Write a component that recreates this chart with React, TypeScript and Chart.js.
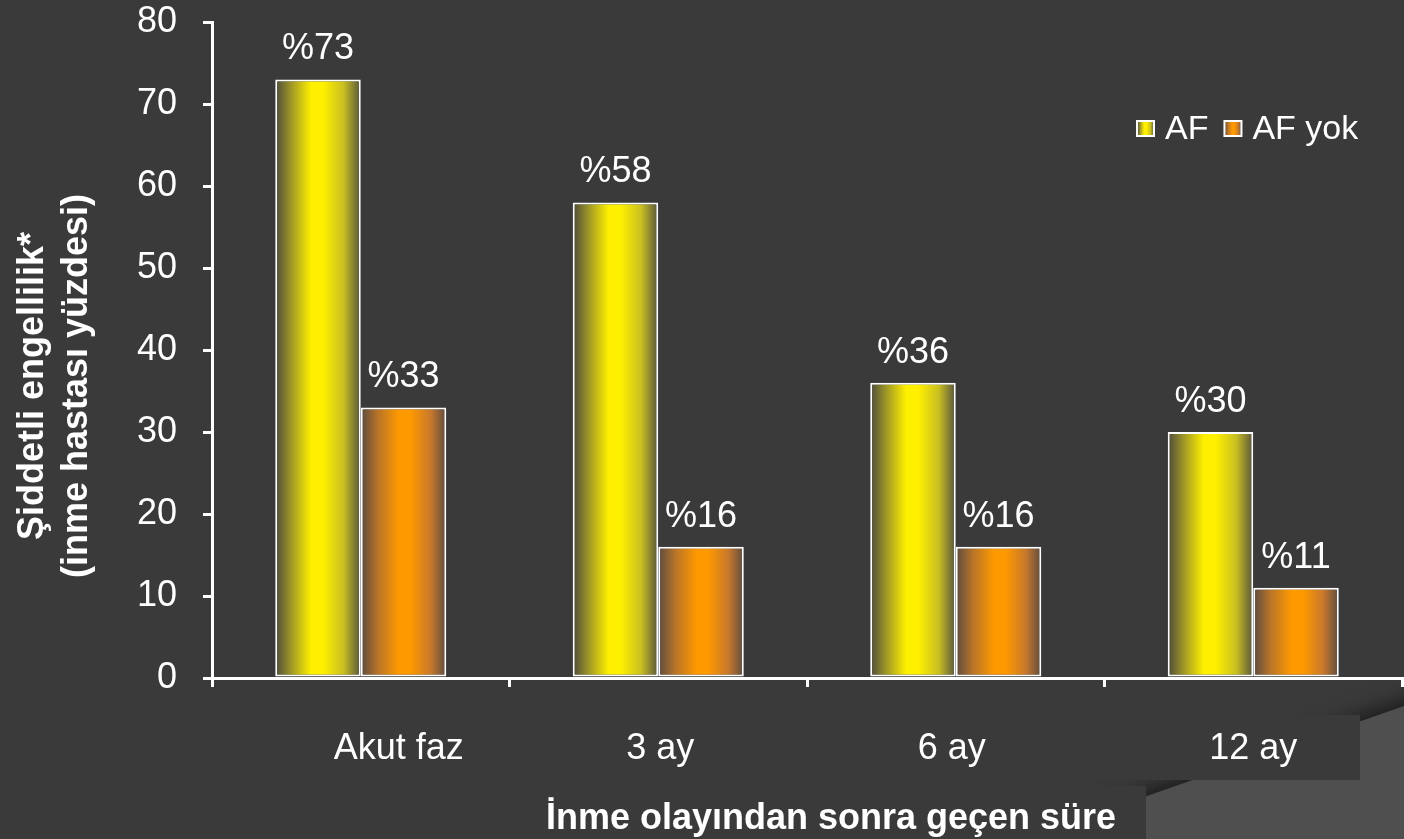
import { useEffect, useRef } from 'react';
import { Chart, registerables } from 'chart.js';

Chart.register(...registerables);

// ---- data ----
const categories = ['Akut faz', '3 ay', '6 ay', '12 ay'];
const seriesNames = ['AF', 'AF yok'];
const afValues = [73, 58, 36, 30];
const noAfValues = [33, 16, 16, 11];
const yMin = 0;
const yMax = 80;
const yStep = 10;
const valuePrefix = '%';
const yTitleLines = ['Şiddetli engellilik*', '(inme hastası yüzdesi)'];
const xTitle = 'İnme olayından sonra geçen süre';

// ---- styles / layout ----
const FONT = "'Liberation Sans', Arial, Helvetica, sans-serif";
const BG = '#3a3a3a';
const PANEL = '#4f4f4f';
const WHITE = '#ffffff';
const LABEL_SHIFT = [38, 2, -4, 0];
const STOPS: [number, string][][] = [
  [
    [0, '#4c4a3b'],
    [0.18, '#9c9428'],
    [0.42, '#fff000'],
    [0.56, '#fff000'],
    [0.8, '#c9bf22'],
    [1, '#57543c'],
  ],
  [
    [0, '#5a4a40'],
    [0.2, '#b87428'],
    [0.45, '#ff9900'],
    [0.58, '#ff9900'],
    [0.82, '#c7782c'],
    [1, '#5d4c40'],
  ],
];

function makeGrad(ctx: CanvasRenderingContext2D, l: number, r: number, di: number) {
  const g = ctx.createLinearGradient(l, 0, r, 0);
  STOPS[di].forEach(([o, c]) => g.addColorStop(o, c));
  return g;
}

const bgPlugin = {
  id: 'bgDeco',
  beforeDraw(chart: any) {
    const { ctx, width, height } = chart;
    ctx.save();
    ctx.fillStyle = BG;
    ctx.fillRect(0, 0, width, height);
    // decorative lighter panel bottom-right
    const slope = 0.35;
    const yAt = (x: number) => 706 + (1404 - x) * slope;
    ctx.shadowColor = 'rgba(0,0,0,0.55)';
    ctx.shadowBlur = 20;
    ctx.shadowOffsetY = -6;
    ctx.fillStyle = PANEL;
    ctx.beginPath();
    ctx.moveTo(width + 60, yAt(width + 60));
    ctx.lineTo(960, yAt(960));
    ctx.lineTo(960, height + 80);
    ctx.lineTo(width + 60, height + 80);
    ctx.closePath();
    ctx.fill();
    ctx.shadowColor = 'transparent';
    ctx.shadowBlur = 0;
    ctx.shadowOffsetY = 0;
    // label boxes
    ctx.fillStyle = BG;
    ctx.fillRect(212, 715, 1360 - 212, 65);
    ctx.fillRect(420, 786, 1146 - 420, height - 786);
    ctx.restore();
  },
};

const gradPlugin = {
  id: 'barGrad',
  beforeDatasetsDraw(chart: any) {
    const ctx = chart.ctx;
    chart.data.datasets.forEach((_: any, di: number) => {
      const meta = chart.getDatasetMeta(di);
      meta.data.forEach((el: any) => {
        const { x, width } = el.getProps(['x', 'width'], true);
        const g = makeGrad(ctx, x - width / 2, x + width / 2, di);
        el.options = { ...el.options, backgroundColor: g };
      });
    });
  },
};

const textPlugin = {
  id: 'texts',
  afterDraw(chart: any) {
    const { ctx } = chart;
    const xs = chart.scales.x;
    ctx.save();
    ctx.fillStyle = WHITE;
    // value labels
    ctx.font = `36px ${FONT}`;
    ctx.textAlign = 'center';
    ctx.textBaseline = 'alphabetic';
    chart.data.datasets.forEach((ds: any, di: number) => {
      const meta = chart.getDatasetMeta(di);
      meta.data.forEach((el: any, i: number) => {
        const { x, y } = el.getProps(['x', 'y'], true);
        ctx.fillText(valuePrefix + ds.data[i], x, y - 20);
      });
    });
    // category labels
    categories.forEach((c, i) => {
      ctx.fillText(c, xs.getPixelForValue(i) + LABEL_SHIFT[i], 759);
    });
    // x title
    ctx.font = `bold 36px ${FONT}`;
    ctx.fillText(xTitle, 831, 829);
    // y title
    ctx.textBaseline = 'middle';
    yTitleLines.forEach((line, i) => {
      ctx.save();
      ctx.translate(33 + i * 44, 386);
      ctx.rotate(-Math.PI / 2);
      ctx.fillText(line, 0, 0);
      ctx.restore();
    });
    // legend
    ctx.font = `34px ${FONT}`;
    ctx.textAlign = 'left';
    ctx.textBaseline = 'alphabetic';
    let lx = 1137;
    const boxTop = 121;
    const boxW = 17;
    const boxH = 15;
    seriesNames.forEach((name, di) => {
      ctx.fillStyle = makeGrad(ctx, lx, lx + boxW, di);
      ctx.fillRect(lx, boxTop, boxW, boxH);
      ctx.strokeStyle = WHITE;
      ctx.lineWidth = 2;
      ctx.strokeRect(lx, boxTop, boxW, boxH);
      ctx.fillStyle = WHITE;
      ctx.fillText(name, lx + boxW + 11, 139);
      lx += boxW + 11 + ctx.measureText(name).width + 16;
    });
    ctx.restore();
  },
};

export default function App() {
  const ref = useRef<HTMLCanvasElement | null>(null);
  useEffect(() => {
    if (!ref.current) return;
    const chart = new Chart(ref.current, {
      type: 'bar',
      data: {
        labels: categories,
        datasets: [
          {
            label: seriesNames[0],
            data: afValues,
            backgroundColor: '#fff000',
            borderColor: WHITE,
            borderWidth: 2,
            borderSkipped: false,
          },
          {
            label: seriesNames[1],
            data: noAfValues,
            backgroundColor: '#ff9900',
            borderColor: WHITE,
            borderWidth: 2,
            borderSkipped: false,
          },
        ],
      },
      options: {
        responsive: false,
        animation: false,
        events: [],
        layout: { padding: { top: 22, right: 2, left: 0, bottom: 0 } },
        datasets: {
          bar: { categoryPercentage: 0.575, barPercentage: 1 },
        },
        plugins: {
          legend: { display: false },
          title: { display: false },
          tooltip: { enabled: false },
        },
        scales: {
          x: {
            offset: true,
            grid: {
              display: true,
              offset: true,
              drawOnChartArea: false,
              drawTicks: true,
              tickLength: 9,
              color: WHITE,
              lineWidth: 3,
            },
            border: { display: true, color: WHITE, width: 3 },
            ticks: { display: false },
            afterFit: (s: any) => {
              s.height = 161;
            },
          },
          y: {
            min: yMin,
            max: yMax,
            ticks: {
              stepSize: yStep,
              color: WHITE,
              padding: 26,
              font: { family: FONT, size: 36 },
            },
            grid: {
              display: true,
              drawOnChartArea: false,
              drawTicks: true,
              tickLength: 9,
              color: WHITE,
              lineWidth: 3,
            },
            border: { display: true, color: WHITE, width: 3 },
            afterFit: (s: any) => {
              s.width = 212;
              s.paddingTop = 0;
              s.paddingBottom = 0;
            },
          },
        },
      },
      plugins: [bgPlugin, gradPlugin, textPlugin],
    });
    return () => chart.destroy();
  }, []);
  return (
    <div style={{ position: 'fixed', left: 0, top: 0, width: 1404, height: 839, background: BG }}>
      <canvas ref={ref} width={1404} height={839} style={{ display: 'block' }} />
    </div>
  );
}
